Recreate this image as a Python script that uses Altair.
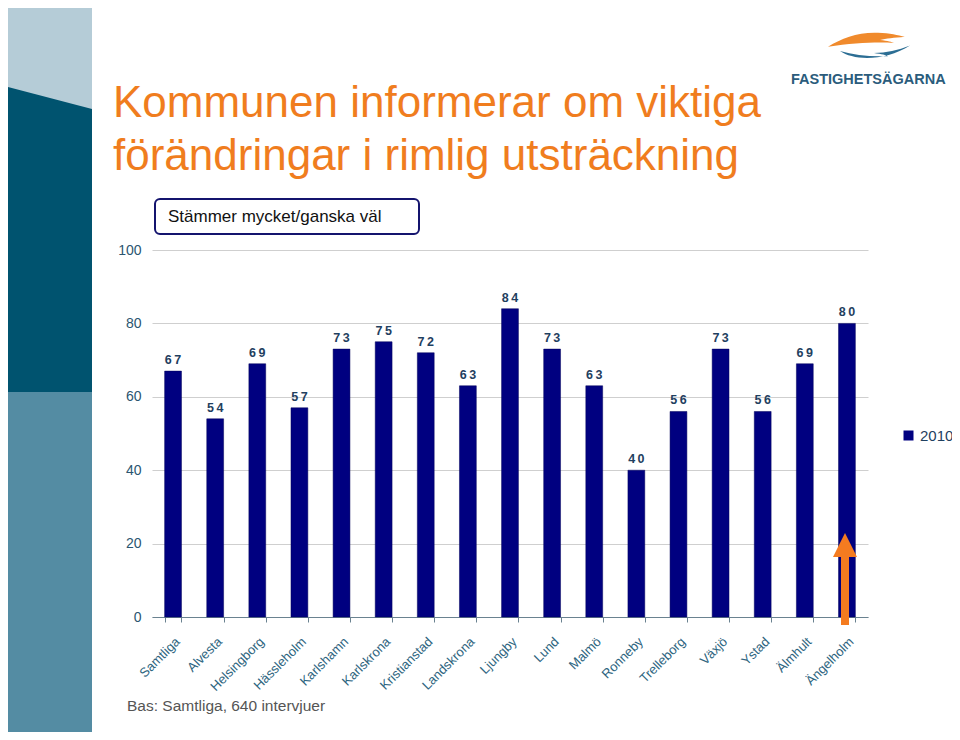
import altair as alt
import pandas as pd

kommuner = ["Samtliga", "Alvesta", "Helsingborg", "Hässleholm", "Karlshamn", "Karlskrona",
            "Kristianstad", "Landskrona", "Ljungby", "Lund", "Malmö", "Ronneby", "Trelleborg",
            "Växjö", "Ystad", "Älmhult", "Ängelholm"]
varden = [67, 54, 69, 57, 73, 75, 72, 63, 84, 73, 63, 40, 56, 73, 56, 69, 80]
serie = "2010"
y_ticks = [0, 20, 40, 60, 80, 100]

titel = ["Kommunen informerar om viktiga", "förändringar i rimlig utsträckning"]
rubrik = "Stämmer mycket/ganska väl"
bas = "Bas: Samtliga, 640 intervjuer"
logo = "FASTIGHETSÄGARNA"

df = pd.DataFrame({"kommun": kommuner, "varde": varden, "ar": [serie] * len(kommuner)})
one = pd.DataFrame({"d": [0]})

FONT = "Liberation Sans, Arial, Helvetica, sans-serif"
ORANGE = "#F07D1E"
NAVY = "#000080"


def rect(x, x2, y, y2, color, **kw):
    return alt.Chart(one).mark_rect(color=color, **kw).encode(
        x=alt.value(x), x2=alt.value(x2), y=alt.value(y), y2=alt.value(y2))


def text(t, x, y, size, color, **kw):
    return alt.Chart(one).mark_text(text=t, align="left", baseline="alphabetic",
                                    fontSize=size, color=color, font=FONT, **kw).encode(
        x=alt.value(x), y=alt.value(y))


def shape(path, x, y, size, color):
    return alt.Chart(one).mark_point(shape=path, size=size, filled=True, color=color,
                                     opacity=1, strokeWidth=0).encode(
        x=alt.value(x), y=alt.value(y))


# left decorative stripes
stripe_light = rect(-144, -60, -242, -130, "#B5CCD7")
stripe_bottom = rect(-144, -60, 142, 486, "#548CA3")
stripe_dark = shape("M-0.2754,-1 L0.2754,-0.8557 L0.2754,1 L-0.2754,1 Z", -102, -10.5, 93025, "#00536F")

# title
t1 = text(titel[0], -39, -133, 44, ORANGE)
t2 = text(titel[1], -39, -80, 44, ORANGE)

# box with subtitle
box = rect(3, 267, -51, -16, "white", stroke="#14146E", strokeWidth=2, cornerRadius=5)
box_text = text(rubrik, 16, -28, 17, "#111111")

# footnote
foot = text(bas, -25, 461, 15.5, "#555555")

# logo
logo_orange = shape(
    "M-0.95,0.17 C-0.6,-0.05 -0.2,-0.2 0.3,-0.18 C0.6,-0.17 0.8,-0.12 0.97,-0.08 "
    "C0.7,-0.05 0.5,-0.04 0.35,0.0 C0.55,0.02 0.65,0.05 0.7,0.07 "
    "C0.3,0.05 -0.3,0.06 -0.95,0.17 Z",
    714, -210, 6400, "#F08A2C")
logo_blue = shape(
    "M-0.85,0.0 C-0.5,0.25 0.3,0.25 0.9,-0.14 C0.6,-0.02 0.3,0.04 0.0,0.05 "
    "C0.2,0.08 0.3,0.1 0.35,0.13 C-0.1,0.15 -0.5,0.1 -0.85,0.0 Z",
    722, -199, 6400, "#2C6E94")
logo_text = text(logo, 639, -166, 14.5, "#2B5C7C", fontWeight="bold")

xenc = alt.X("kommun:N", sort=kommuner,
             scale=alt.Scale(paddingInner=0.6, paddingOuter=0.3),
             axis=alt.Axis(title=None, labelAngle=-45, labelFontSize=13, labelColor="#2E6580",
                           labelFont=FONT, tickBand="extent", tickSize=5, tickColor="#6A8290",
                           domainColor="#6A8290", grid=False, labelPadding=13))
yenc = alt.Y("varde:Q", scale=alt.Scale(domain=[0, 100]),
             axis=alt.Axis(title=None, values=y_ticks, grid=True, gridColor="#CFCFCF",
                           domain=False, ticks=False, labelFontSize=14, labelColor="#2B5570",
                           labelFont=FONT, labelPadding=11))

bars = alt.Chart(df).mark_bar(stroke="#00005A", strokeWidth=0.5).encode(
    x=xenc, y=yenc,
    color=alt.Color("ar:N", scale=alt.Scale(domain=[serie], range=[NAVY]),
                    legend=alt.Legend(title=None, orient="none", legendX=749, legendY=178,
                                      symbolType="square", symbolSize=100, symbolStrokeWidth=0,
                                      labelFontSize=15, labelColor="#1F4060", labelFont=FONT,
                                      labelOffset=4, padding=0)))

labels = alt.Chart(df).transform_calculate(
    lbl="join(split(toString(datum.varde), ''), '\u2009')"
).mark_text(dy=-7, baseline="alphabetic", fontSize=12.5, fontWeight="bold",
            color="#1F4060", font=FONT).encode(
    x=alt.X("kommun:N", sort=kommuner), y="varde:Q", text="lbl:N")

# arrow
arrow_shaft = alt.Chart(one).mark_rule(color="#F47B20", strokeWidth=8).encode(
    x=alt.value(693), y=alt.value(305), y2=alt.value(375))
arrow_head = shape("M0,-1 L1,1 L-1,1 Z", 693, 295, 576, "#F47B20")

chart = alt.layer(
    stripe_light, stripe_bottom, stripe_dark, t1, t2, box, box_text, foot,
    logo_orange, logo_blue, logo_text, bars, labels, arrow_shaft, arrow_head
).properties(
    width=716, height=367,
    autosize=alt.AutoSizeParams(type="none"),
    padding={"left": 144, "top": 242, "right": 84, "bottom": 115},
).configure(font=FONT).configure_view(stroke=None)

chart.save("out.html", embed_options={"renderer": "svg", "actions": False})
